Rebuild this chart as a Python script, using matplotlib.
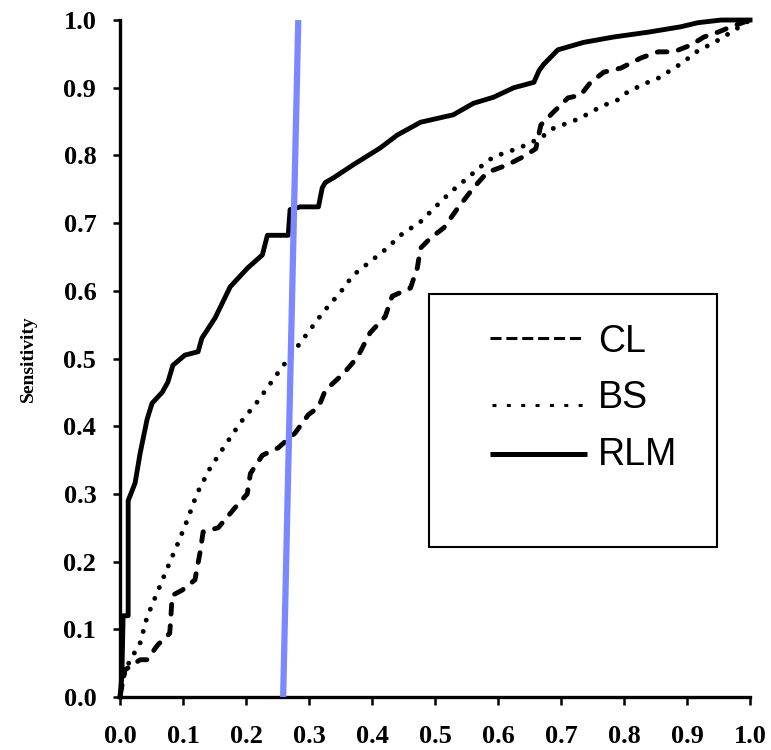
import numpy as np
import matplotlib.pyplot as plt
from matplotlib.patches import Rectangle

# ROC curves: 1 - specificity (x) vs sensitivity (y)
rlm_x = [0.0, 0.003, 0.005, 0.013, 0.013, 0.024, 0.032, 0.043, 0.051, 0.067,
         0.076, 0.084, 0.103, 0.124, 0.130, 0.151, 0.175, 0.203, 0.226, 0.234,
         0.267, 0.270, 0.286, 0.315, 0.321, 0.326, 0.339, 0.370, 0.413, 0.440,
         0.477, 0.529, 0.561, 0.593, 0.625, 0.657, 0.665, 0.672, 0.695, 0.736,
         0.784, 0.838, 0.890, 0.917, 0.954, 1.0]
rlm_y = [0.0, 0.03, 0.12, 0.12, 0.29, 0.316, 0.36, 0.41, 0.434, 0.45,
         0.465, 0.49, 0.505, 0.51, 0.53, 0.56, 0.606, 0.634, 0.653, 0.682,
         0.682, 0.72, 0.724, 0.724, 0.752, 0.76, 0.767, 0.786, 0.811, 0.83,
         0.849, 0.86, 0.877, 0.886, 0.90, 0.908, 0.925, 0.934, 0.956, 0.967,
         0.975, 0.982, 0.99, 0.996, 1.0, 1.0]

cl_x = [0.0, 0.008, 0.032, 0.043, 0.060, 0.079, 0.083, 0.099, 0.119, 0.127,
        0.132, 0.156, 0.183, 0.202, 0.207, 0.226, 0.251, 0.278, 0.299, 0.315,
        0.326, 0.355, 0.377, 0.397, 0.421, 0.432, 0.461, 0.472, 0.477, 0.493,
        0.514, 0.536, 0.561, 0.583, 0.615, 0.644, 0.660, 0.668, 0.688, 0.711,
        0.731, 0.747, 0.768, 0.795, 0.827, 0.854, 0.879, 0.906, 0.927, 0.949,
        0.970, 1.0]
cl_y = [0.0, 0.04, 0.055, 0.055, 0.077, 0.094, 0.15, 0.158, 0.173, 0.213,
        0.244, 0.25, 0.28, 0.30, 0.33, 0.357, 0.368, 0.39, 0.417, 0.428,
        0.453, 0.478, 0.502, 0.538, 0.562, 0.592, 0.604, 0.634, 0.663, 0.678,
        0.693, 0.722, 0.752, 0.775, 0.786, 0.80, 0.81, 0.845, 0.864, 0.885,
        0.889, 0.908, 0.923, 0.929, 0.944, 0.953, 0.953, 0.963, 0.975, 0.982,
        0.99, 1.0]

bs_x = [0.0, 0.008, 0.021, 0.032, 0.043, 0.059, 0.075, 0.092, 0.108, 0.122,
        0.143, 0.167, 0.191, 0.218, 0.254, 0.323, 0.350, 0.370, 0.397, 0.424,
        0.445, 0.477, 0.504, 0.525, 0.552, 0.572, 0.593, 0.615, 0.636, 0.668,
        0.688, 0.711, 0.731, 0.747, 0.768, 0.790, 0.806, 0.838, 0.859, 0.874,
        0.895, 0.911, 0.927, 0.949, 0.970, 1.0]
bs_y = [0.0, 0.04, 0.062, 0.08, 0.118, 0.154, 0.19, 0.227, 0.264, 0.30,
        0.338, 0.372, 0.405, 0.436, 0.483, 0.569, 0.598, 0.623, 0.643, 0.663,
        0.682, 0.702, 0.727, 0.746, 0.767, 0.783, 0.798, 0.805, 0.812, 0.826,
        0.84, 0.848, 0.855, 0.864, 0.874, 0.882, 0.894, 0.908, 0.916, 0.926,
        0.938, 0.951, 0.959, 0.97, 0.982, 1.0]

# threshold line
cut_x = [0.259, 0.283]
cut_y = [0.0, 1.0]

ticks = np.round(np.arange(0, 1.01, 0.1), 1)
tick_labels = [f"{t:.1f}" for t in ticks]

fig = plt.figure(figsize=(7.71, 7.5), dpi=100)
ax = fig.add_axes([0.1556, 0.0707, 0.8172, 0.9026])

lw = 3.5
ax.plot(cl_x, cl_y, color="black", lw=lw, dashes=(2.0, 2.4),
        dash_capstyle="round", solid_joinstyle="round", clip_on=False, zorder=3)
ax.plot(bs_x, bs_y, color="black", lw=lw, dashes=(0.01, 2.4),
        dash_capstyle="round", clip_on=False, zorder=3)
ax.plot(rlm_x, rlm_y, color="black", lw=lw, clip_on=False, zorder=3)
ax.plot(cut_x, cut_y, color="#7b88ff", lw=4.5, solid_capstyle="butt",
        clip_on=False, zorder=4)

ax.set_xlim(0, 1)
ax.set_ylim(0, 1)
ax.set_xticks(ticks)
ax.set_yticks(ticks)
ax.set_xticklabels(tick_labels)
ax.set_yticklabels(tick_labels)
for lab in ax.get_xticklabels() + ax.get_yticklabels():
    lab.set_family("Liberation Serif")
    lab.set_fontweight("bold")
    lab.set_fontsize(19)
ax.tick_params(axis="x", direction="out", length=5.5, width=1.8, pad=15)
ax.tick_params(axis="y", direction="out", length=5, width=1.8, pad=12)

for side in ("top", "right"):
    ax.spines[side].set_visible(False)
for side in ("left", "bottom"):
    ax.spines[side].set_linewidth(2.4)

ax.set_ylabel("Sensitivity", family="Liberation Serif", fontweight="bold",
              fontsize=14)
ax.yaxis.set_label_coords(-0.132, 0.5)

# hand-drawn legend box
tr = ax.transAxes
ax.add_patch(Rectangle((0.490, 0.2216), 0.458, 0.3734, transform=tr,
                       fill=False, edgecolor="black", lw=1.5, zorder=5))
ax.plot([0.587, 0.735], [0.530, 0.530], transform=tr, color="black", lw=2.2,
        dashes=(3.6, 1.6), dash_capstyle="butt", zorder=5)
ax.plot([0.590, 0.746], [0.431, 0.431], transform=tr, color="black", lw=2.2,
        dashes=(1.3, 3.4), dash_capstyle="butt", zorder=5)
ax.plot([0.587, 0.741], [0.359, 0.359], transform=tr, color="black", lw=3.6,
        solid_capstyle="butt", zorder=5)
for y, name in [(0.51, "CL"), (0.427, "BS"), (0.343, "RLM")]:
    ax.text(0.759, y, name, transform=tr, family="Liberation Sans",
            fontsize=27, va="baseline", ha="left", zorder=5)

fig.savefig("out.png", dpi=100)
